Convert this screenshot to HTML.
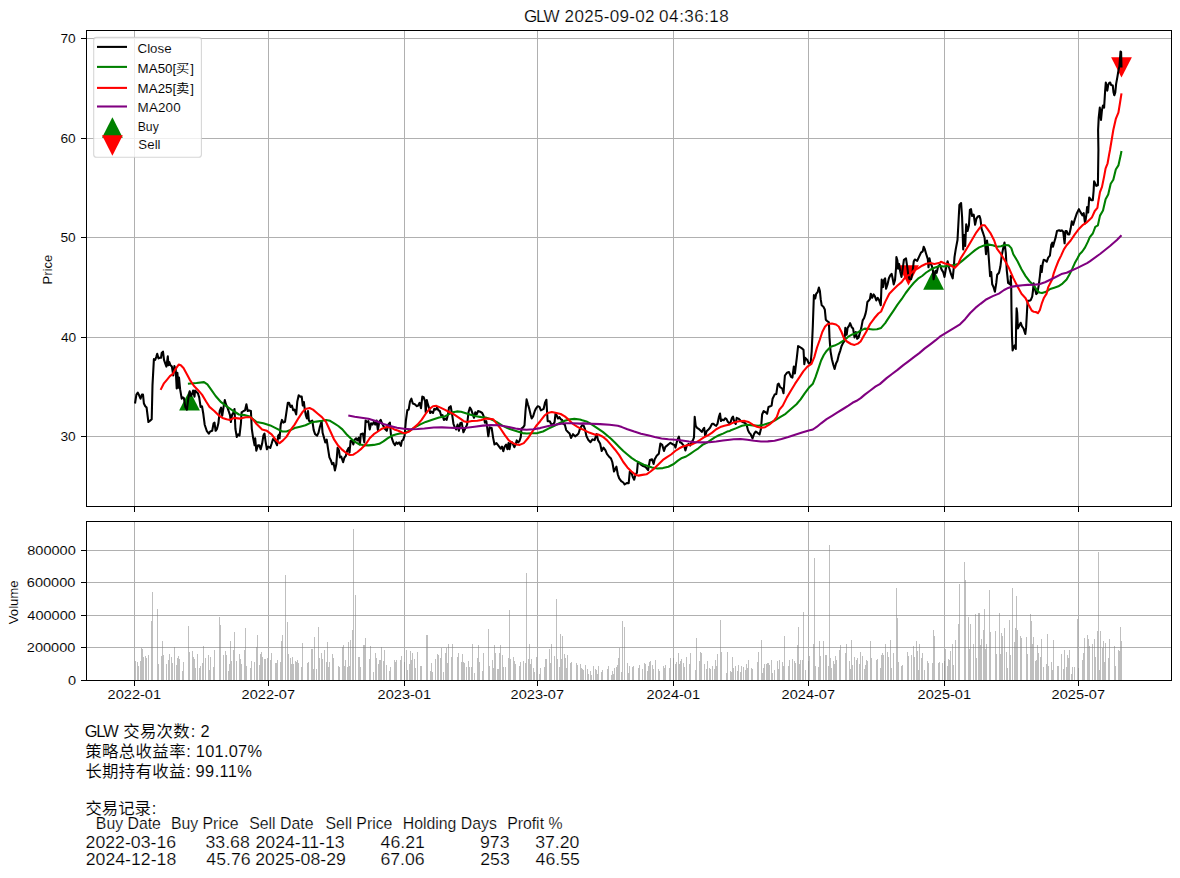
<!DOCTYPE html>
<html lang="zh"><head><meta charset="utf-8"><title>GLW</title><style>html,body{margin:0;padding:0;background:#fff}svg text{fill:#000;stroke:#fff;font-family:"Liberation Sans","Noto Sans CJK SC",sans-serif;white-space:pre}</style></head><body>
<svg width="1180" height="878" viewBox="0 0 1180 878" style="display:block">
<rect width="1180" height="878" fill="#fff"/>
<g stroke="#b0b0b0" stroke-width="1" shape-rendering="crispEdges">
<line x1="134.5" y1="30.5" x2="134.5" y2="506.5"/>
<line x1="268.5" y1="30.5" x2="268.5" y2="506.5"/>
<line x1="404.5" y1="30.5" x2="404.5" y2="506.5"/>
<line x1="537.5" y1="30.5" x2="537.5" y2="506.5"/>
<line x1="673.5" y1="30.5" x2="673.5" y2="506.5"/>
<line x1="808.5" y1="30.5" x2="808.5" y2="506.5"/>
<line x1="944.5" y1="30.5" x2="944.5" y2="506.5"/>
<line x1="1078.5" y1="30.5" x2="1078.5" y2="506.5"/>
<line x1="86.5" y1="38.5" x2="1171.5" y2="38.5"/>
<line x1="86.5" y1="138.5" x2="1171.5" y2="138.5"/>
<line x1="86.5" y1="237.5" x2="1171.5" y2="237.5"/>
<line x1="86.5" y1="337.5" x2="1171.5" y2="337.5"/>
<line x1="86.5" y1="436.5" x2="1171.5" y2="436.5"/>
</g>
<clipPath id="c1"><rect x="86.5" y="30.5" width="1085.0" height="476.0"/></clipPath>
<g clip-path="url(#c1)">
<polygon points="189.5,390.2 179.1,410.6 199.9,410.6" fill="#008000"/>
<polygon points="933.6,269.3 923.2,289.7 944.0,289.7" fill="#008000"/>
<polygon points="908.5,285.6 898.1,265.2 918.9,265.2" fill="#ff0000"/>
<polygon points="1121.5,77.6 1111.1,57.2 1131.9,57.2" fill="#ff0000"/>
<polyline points="135.0,403.5 136.4,394.6 137.8,392.6 139.1,395.3 140.5,398.7 141.9,394.6 143.0,394.6 143.9,403.5 145.3,406.3 146.6,407.6 147.7,416.5 148.4,422.0 150.1,420.6 151.7,419.2 152.5,385.1 153.9,359.1 155.2,359.8 156.2,357.1 157.2,353.7 158.5,358.4 159.9,357.8 161.0,357.8 161.7,353.0 163.0,351.6 164.0,359.8 165.4,363.9 166.4,366.6 167.8,356.4 168.5,365.3 169.2,361.9 170.5,365.3 171.9,366.6 173.3,375.5 174.4,366.0 175.7,369.4 176.7,388.5 177.4,372.8 178.5,387.8 179.0,377.6 180.1,389.2 181.7,398.7 182.8,397.4 183.9,398.1 185.3,406.9 186.9,409.7 188.3,398.7 189.7,391.2 191.0,396.0 192.4,393.3 193.1,390.5 194.5,396.7 195.1,390.5 196.5,391.9 197.9,393.3 199.2,397.4 200.6,406.9 202.0,406.3 203.3,413.8 204.7,424.7 206.7,430.8 208.8,433.6 210.2,431.5 212.2,430.8 213.6,423.3 214.5,422.7 215.6,430.8 217.0,428.8 218.4,423.3 219.7,411.0 221.1,407.6 222.2,415.8 223.8,405.6 224.8,400.1 225.9,404.2 227.2,406.9 228.6,411.0 230.0,415.1 230.9,422.0 232.0,415.1 233.4,412.4 234.5,409.0 235.4,428.8 236.8,437.0 238.2,434.3 239.5,435.6 240.9,423.3 241.6,412.4 243.6,411.0 245.0,410.4 246.4,404.2 247.7,411.0 249.1,410.4 250.9,411.0 251.8,428.8 253.2,438.4 254.6,445.2 255.2,438.4 256.3,450.7 258.0,445.2 259.3,445.2 260.7,449.3 262.1,443.8 263.4,435.6 264.5,433.6 265.5,441.1 266.9,449.3 268.2,446.6 270.3,447.9 271.6,443.8 273.0,439.0 275.1,441.1 277.1,445.2 278.2,435.6 279.2,434.3 279.6,438.3 280.7,424.6 282.0,419.9 283.4,422.6 285.0,421.9 286.4,412.3 287.8,402.8 289.1,402.8 290.5,406.9 291.9,405.5 293.2,410.3 294.6,409.6 296.2,414.4 297.3,401.4 298.7,395.3 300.1,396.6 301.7,396.6 302.8,405.5 303.9,402.1 304.8,409.6 305.8,415.1 306.9,418.5 308.0,411.0 308.9,420.5 310.3,421.9 312.3,420.5 313.7,430.1 315.1,434.2 317.1,435.6 318.5,432.8 319.9,426.7 321.6,421.2 322.6,432.8 324.0,437.6 325.3,442.4 326.7,439.7 328.1,449.2 329.4,457.4 330.8,460.2 332.2,464.3 333.5,462.9 334.9,470.4 336.3,464.3 337.6,447.9 339.0,450.6 339.9,457.4 341.3,456.7 343.1,462.2 344.5,457.4 345.8,456.1 347.2,450.6 348.6,447.9 349.5,452.7 350.6,441.0 352.0,440.4 353.3,444.5 354.7,439.7 356.1,438.3 357.4,440.4 358.8,437.6 359.9,444.5 360.8,434.2 362.9,433.5 364.3,442.4 365.6,420.5 367.0,421.9 368.4,421.2 369.7,429.4 371.1,423.3 372.5,424.6 373.8,421.9 375.2,424.6 376.6,420.5 377.9,430.1 379.3,421.9 380.7,419.9 382.0,423.3 383.4,426.0 384.8,428.7 386.8,430.8 388.2,424.6 389.9,422.6 390.9,434.2 392.3,439.7 393.6,443.1 395.0,445.1 396.4,442.4 397.7,443.8 399.1,442.4 400.9,445.8 401.8,441.0 403.2,439.7 404.6,435.6 405.9,420.5 407.3,410.3 408.7,409.6 410.0,401.4 411.4,398.7 412.8,403.5 414.8,404.2 416.9,406.2 418.2,405.5 419.6,402.8 421.0,408.3 422.3,396.6 423.7,397.3 425.1,401.4 425.7,412.3 426.8,400.1 427.8,404.2 429.2,408.3 430.2,413.0 431.6,411.7 433.0,413.0 434.3,408.9 435.7,409.6 437.1,407.6 438.4,410.3 439.8,411.0 441.2,415.8 442.5,415.1 443.9,419.9 445.3,418.5 446.6,419.9 448.0,414.4 449.0,407.6 450.7,406.2 452.1,414.4 453.5,424.0 454.8,427.4 456.2,429.4 457.6,424.6 458.9,430.8 460.3,423.3 461.7,422.6 463.4,432.2 465.1,428.7 467.1,424.6 468.5,412.3 469.9,407.6 471.2,409.6 472.6,413.7 474.0,417.8 475.3,412.3 476.7,414.4 478.1,411.0 480.1,411.7 482.2,413.0 483.5,415.8 484.9,422.6 486.3,421.2 487.2,427.4 488.3,436.3 489.7,427.4 491.7,428.1 493.1,437.6 494.5,444.5 496.5,443.1 498.6,445.8 500.6,448.6 502.0,446.5 503.3,451.3 504.7,446.5 506.1,444.5 507.4,449.2 508.5,443.1 509.5,449.2 510.8,442.4 512.2,442.4 514.3,447.2 515.6,444.5 516.7,440.4 518.1,442.4 519.5,441.0 520.8,436.9 521.4,428.7 523.1,427.4 524.5,425.3 525.5,411.0 526.6,399.4 527.9,404.2 529.3,408.9 530.7,415.1 531.7,418.5 533.1,416.4 534.8,411.0 536.1,408.3 537.8,406.2 539.5,406.9 540.9,410.3 542.3,409.6 543.6,408.9 545.0,402.8 546.4,399.8 547.0,411.0 547.7,421.2 549.8,421.2 551.1,424.0 553.2,424.6 554.6,421.9 555.5,413.7 556.6,415.1 558.0,418.5 559.3,417.1 560.7,419.2 562.1,419.9 563.4,424.0 564.8,424.6 566.2,430.1 568.2,432.2 569.6,433.5 571.0,437.9 573.0,434.2 575.1,436.3 577.1,434.9 578.5,433.5 579.8,429.4 580.9,427.1 582.3,425.1 583.7,425.8 585.0,429.2 586.4,436.0 588.4,440.1 590.5,442.2 592.5,439.4 594.6,440.1 596.6,434.0 598.0,440.1 600.1,443.5 601.7,451.0 603.5,447.6 605.5,450.4 606.9,453.8 608.9,456.5 611.0,458.6 612.3,462.0 614.0,471.5 615.4,468.8 616.4,466.7 617.8,474.3 619.2,478.4 621.2,481.1 623.3,482.5 624.6,484.5 626.7,483.1 628.7,483.1 629.8,471.5 631.5,472.9 632.8,477.0 634.2,479.7 635.6,474.3 636.9,472.9 637.9,462.0 639.7,463.3 641.0,464.7 643.1,466.1 645.1,466.7 646.5,468.1 648.1,470.2 649.9,459.9 652.0,459.2 653.6,464.0 654.7,459.2 656.7,455.8 658.8,453.8 660.4,443.5 662.2,444.9 664.0,451.0 665.4,446.9 667.0,445.6 668.6,444.2 670.4,442.8 672.5,444.2 674.5,444.9 675.5,447.6 676.6,442.8 677.9,438.7 678.9,436.7 680.0,442.2 681.3,442.8 683.1,444.9 684.5,446.9 685.4,450.4 686.8,445.6 688.6,443.9 690.2,445.6 691.6,442.2 693.0,440.1 694.0,437.4 694.7,416.9 695.7,425.8 697.0,427.8 699.1,429.2 700.5,430.5 701.8,431.9 703.2,429.2 704.2,427.8 705.2,436.0 706.6,431.2 708.7,429.2 710.0,427.8 712.1,423.7 713.4,423.7 714.8,425.1 716.2,425.8 717.5,423.7 718.9,416.9 720.0,413.5 721.0,421.0 722.3,419.6 723.7,420.3 725.1,418.3 726.4,418.9 727.8,421.7 729.8,423.7 730.2,423.3 732.0,417.9 733.0,416.5 734.3,422.0 735.7,424.0 736.7,417.9 738.4,418.6 740.5,420.6 742.5,422.0 744.6,422.7 746.6,424.7 748.0,430.2 749.4,432.9 750.7,434.3 752.5,438.4 754.2,433.6 755.8,431.5 757.6,432.9 759.6,434.3 761.0,428.8 762.1,414.5 763.7,411.0 765.8,412.4 767.1,413.8 768.5,406.9 770.3,406.3 771.6,405.6 772.6,398.7 774.6,394.6 776.3,394.0 777.7,384.4 778.7,383.7 780.1,387.1 782.2,388.5 783.5,393.3 784.9,375.5 786.9,372.8 789.0,372.1 791.0,376.9 792.4,377.6 793.8,366.6 794.9,373.5 795.8,366.0 796.8,357.8 798.1,346.1 799.8,347.0 801.9,348.4 803.5,349.7 804.3,364.1 805.3,357.9 807.3,360.0 808.7,363.4 810.7,362.7 811.7,351.1 812.8,326.5 813.9,295.1 815.2,298.5 816.2,293.7 817.6,292.3 818.9,287.6 819.9,291.0 820.7,299.2 821.7,305.3 823.4,306.7 824.8,309.4 825.8,319.7 827.1,321.0 828.9,322.4 829.5,337.4 830.5,351.1 831.9,359.3 833.3,364.8 834.6,368.9 836.0,363.4 837.4,360.7 838.7,355.2 840.1,351.1 841.5,346.3 843.1,342.9 844.5,340.8 845.3,327.9 846.7,334.7 847.6,327.9 849.0,325.8 850.1,323.1 851.7,327.2 853.1,328.6 854.5,337.4 855.8,332.0 857.2,338.8 858.6,337.4 859.9,332.7 861.3,327.9 862.7,320.4 864.0,318.3 865.4,314.2 866.3,310.1 867.4,301.9 868.8,300.5 869.9,299.2 870.8,293.7 872.2,297.8 873.6,294.4 874.9,296.4 876.3,300.5 877.7,297.8 879.0,299.9 880.8,305.3 881.7,279.6 883.1,287.1 883.8,280.3 885.1,278.3 886.1,288.8 887.5,284.4 888.9,278.3 890.2,275.5 891.6,273.8 892.6,278.3 893.7,284.4 895.0,280.3 896.1,267.3 896.4,257.1 897.4,260.5 898.1,268.7 899.1,263.9 900.2,271.4 901.5,276.9 902.9,267.3 903.9,259.8 906.0,258.4 907.3,267.3 908.3,274.8 909.4,278.9 911.1,279.3 912.4,272.8 913.8,261.2 914.8,259.5 917.2,260.8 918.9,257.1 921.0,252.6 922.7,251.3 923.7,246.8 924.7,248.9 926.1,253.7 927.8,259.1 928.5,267.3 929.5,258.4 930.5,263.2 931.9,266.0 932.9,270.7 933.6,279.3 934.6,274.2 935.7,270.7 936.7,272.8 938.1,266.6 939.8,264.6 941.5,269.4 943.2,272.1 944.5,276.9 945.9,268.7 947.6,261.2 949.0,267.3 951.0,274.2 952.7,278.3 953.8,267.3 954.5,257.1 955.8,248.9 957.5,240.0 959.4,205.0 961.1,203.0 962.1,217.3 963.2,249.4 964.2,235.1 965.2,246.0 966.2,224.2 967.6,231.0 968.9,225.5 969.9,209.8 971.0,209.1 972.1,216.0 973.7,214.6 975.1,224.8 976.4,218.7 977.8,216.6 979.5,216.0 980.5,219.4 981.6,228.9 983.3,233.7 984.6,237.8 986.0,254.2 987.0,240.5 988.1,248.7 989.4,266.5 990.1,276.1 991.2,272.0 992.2,284.3 993.5,287.0 994.9,291.8 996.3,282.9 997.2,274.7 999.0,272.7 1000.4,266.5 1001.7,255.6 1003.1,248.7 1004.5,242.6 1005.8,252.8 1006.8,270.6 1008.1,282.9 1009.9,284.3 1011.3,276.1 1010.7,276.1 1011.2,285.4 1011.5,311.0 1012.0,336.6 1012.6,350.4 1013.8,346.8 1014.8,345.3 1015.8,348.9 1016.1,327.4 1016.6,308.4 1017.2,313.0 1017.9,328.4 1019.2,325.8 1020.7,322.8 1022.0,326.4 1023.5,328.4 1025.3,334.0 1026.1,327.4 1026.8,315.1 1027.6,300.7 1029.2,300.7 1030.7,300.2 1032.2,296.6 1033.0,290.5 1033.6,283.3 1034.6,287.4 1035.3,290.5 1036.3,294.1 1037.4,293.1 1038.7,285.4 1039.9,276.1 1040.9,265.8 1041.7,272.0 1042.7,263.8 1043.7,259.7 1045.4,260.4 1046.8,261.7 1048.2,257.6 1049.9,255.6 1051.3,244.6 1052.3,242.6 1053.0,246.7 1054.3,241.9 1055.7,237.1 1057.0,231.0 1059.1,230.3 1060.5,231.0 1061.8,230.3 1063.2,231.7 1064.6,243.3 1065.5,231.0 1066.6,231.0 1068.0,234.4 1069.3,234.4 1070.7,228.3 1071.8,221.4 1073.2,224.8 1074.8,219.4 1076.9,213.2 1078.9,209.1 1080.3,211.9 1082.3,215.3 1083.7,213.2 1085.1,223.5 1086.4,214.6 1087.1,207.1 1088.2,212.5 1089.2,197.5 1089.8,198.2 1090.7,199.4 1091.2,200.2 1092.8,200.2 1093.6,191.0 1094.1,181.2 1095.3,183.8 1096.4,185.9 1097.9,185.3 1098.4,150.0 1098.1,130.0 1098.7,117.9 1099.8,107.6 1101.0,119.9 1102.0,109.7 1103.0,105.6 1104.1,107.6 1105.1,91.2 1105.8,82.5 1106.6,85.1 1107.3,90.7 1108.2,85.1 1109.2,83.0 1110.2,82.5 1111.2,85.1 1112.8,85.6 1113.5,92.3 1114.3,95.3 1115.3,92.3 1116.1,84.1 1117.4,76.9 1118.6,69.7 1119.4,66.6 1120.5,51.5 1121.1,52.1 1121.5,67.5" fill="none" stroke="#000" stroke-width="2.08" stroke-linejoin="round" stroke-linecap="butt"/>
<polyline points="187.9,383.7 196.5,383.0 204.0,382.1 207.4,384.4 210.8,389.2 215.6,396.0 221.1,402.2 226.6,406.3 233.4,411.0 238.9,414.5 244.3,415.1 249.8,416.5 256.6,422.0 263.4,423.3 270.3,425.4 275.7,428.1 282.3,431.5 286.4,431.5 290.5,430.1 294.6,428.1 300.1,426.7 305.5,425.3 311.0,422.6 316.4,421.6 321.9,420.8 326.0,419.9 330.1,420.8 334.2,423.3 338.3,426.0 342.4,429.4 346.5,434.2 350.6,438.3 354.7,441.7 358.8,444.2 362.9,445.1 368.4,445.4 373.8,444.9 379.3,443.8 383.4,441.4 387.5,438.3 391.6,435.8 395.7,434.5 399.8,433.5 404.6,433.1 409.3,430.8 414.8,427.4 420.3,424.4 425.7,421.9 433.7,419.2 439.1,417.4 444.6,416.4 448.7,414.4 452.8,412.3 456.9,411.4 461.0,411.7 465.1,413.0 470.5,414.8 476.0,416.2 481.5,417.1 485.6,417.5 491.0,419.2 496.5,421.9 502.0,425.3 507.4,428.1 512.9,430.1 518.4,431.7 522.5,433.1 526.6,433.5 532.0,433.3 537.5,433.1 543.0,431.5 548.4,428.7 553.9,426.0 559.3,423.3 564.8,420.8 570.3,419.2 574.4,418.9 579.8,419.5 582.3,420.3 586.4,421.4 590.5,423.7 594.6,426.4 598.7,429.2 602.8,431.9 606.9,435.3 611.0,438.7 615.1,442.8 619.2,446.9 623.3,451.0 627.4,454.5 631.5,457.9 635.6,460.6 639.7,462.7 643.8,464.7 647.9,466.1 652.0,467.4 657.4,468.5 662.9,468.1 668.4,466.7 673.8,464.0 677.9,460.6 682.0,457.9 686.1,456.5 690.2,453.8 694.3,451.0 698.4,448.3 702.5,444.9 706.6,442.8 710.7,440.1 714.8,437.4 718.9,435.3 723.0,433.6 727.1,431.6 729.8,431.0 730.9,430.2 736.4,428.1 741.9,425.8 747.3,424.7 752.8,425.4 758.3,425.8 763.7,424.7 769.2,423.1 774.6,420.6 780.1,417.2 785.6,413.8 791.0,409.0 796.5,404.2 800.6,399.4 804.7,393.3 808.8,387.8 812.9,383.7 815.6,376.9 818.4,368.7 821.1,360.5 823.8,355.0 826.6,350.9 830.7,346.8 834.6,345.6 838.7,343.6 844.2,340.2 848.3,336.7 852.4,334.4 856.5,333.1 860.6,330.6 864.7,328.6 868.8,329.0 872.9,329.5 877.0,329.2 881.1,327.9 885.2,323.1 889.3,316.9 893.4,310.8 897.5,304.6 901.6,299.2 905.7,293.0 909.8,287.6 913.9,282.8 918.0,278.7 922.1,276.0 926.2,272.5 930.3,269.8 934.4,267.8 939.8,266.1 943.7,266.5 949.1,265.8 954.6,265.1 958.7,263.8 962.8,260.4 966.9,256.9 971.0,253.5 975.1,250.1 979.2,247.4 984.6,245.3 988.7,244.6 992.8,245.3 996.9,246.7 1001.0,246.3 1004.5,245.1 1008.6,245.3 1011.3,248.1 1013.3,254.2 1017.4,261.0 1021.5,269.2 1025.6,276.1 1029.7,281.5 1033.8,285.6 1036.6,289.7 1039.3,292.5 1042.0,293.1 1046.1,291.8 1050.2,289.0 1054.3,287.7 1058.4,286.3 1062.5,283.6 1066.6,279.5 1069.3,274.7 1072.1,269.2 1074.8,263.1 1077.5,258.3 1079.6,254.2 1082.3,251.5 1085.1,247.4 1087.8,241.9 1089.8,237.1 1092.8,233.5 1095.3,226.8 1097.9,225.3 1100.0,215.6 1103.0,210.5 1105.6,199.2 1108.2,194.6 1110.7,183.8 1113.3,179.7 1115.8,169.5 1118.4,165.4 1120.5,156.1 1121.5,151.0" fill="none" stroke="#008000" stroke-width="2.08" stroke-linejoin="round" stroke-linecap="butt"/>
<polyline points="160.6,389.9 163.7,383.7 167.1,379.6 169.9,376.2 172.6,374.2 175.3,369.4 178.7,364.6 180.8,365.3 183.5,368.0 186.9,374.2 189.7,379.6 193.8,385.8 197.9,389.9 202.0,394.6 206.1,401.5 209.5,406.9 214.3,411.0 218.4,415.1 222.5,417.9 226.6,419.2 230.0,419.9 234.1,417.9 240.2,418.6 245.7,417.2 250.5,417.2 253.9,420.6 256.6,424.0 262.1,429.5 266.9,430.8 271.6,434.3 275.7,439.7 279.2,443.1 279.6,443.1 283.0,440.4 286.4,436.9 290.5,430.1 294.6,424.6 298.7,417.8 302.8,411.7 305.5,408.9 309.6,408.0 313.0,409.6 317.8,413.7 321.9,417.1 326.0,421.9 330.1,430.8 334.2,439.7 338.3,445.8 342.4,449.9 346.5,453.3 349.9,455.0 353.3,454.7 357.4,452.0 361.5,448.6 365.6,444.5 369.7,438.3 373.8,434.2 377.9,431.5 382.0,428.7 386.1,427.1 390.2,427.1 394.3,429.4 398.4,430.8 402.5,432.8 405.2,433.1 409.3,431.5 413.4,428.1 417.5,424.6 421.6,419.9 425.7,413.7 429.2,409.3 429.6,408.9 433.0,406.2 436.4,405.9 440.5,407.6 444.6,409.6 448.7,411.7 452.8,413.7 456.9,416.4 461.0,419.2 463.7,421.2 467.1,421.9 471.9,421.0 477.4,420.8 481.5,419.9 485.6,418.5 489.7,418.9 493.1,419.2 496.5,423.3 500.6,428.7 504.7,434.9 508.8,440.4 512.9,443.1 516.3,444.5 519.7,444.9 523.8,443.1 527.9,438.3 532.0,432.2 536.1,426.0 540.2,421.2 544.3,415.8 547.7,413.0 551.8,412.1 556.6,413.0 560.7,414.0 564.8,416.4 568.9,419.9 573.0,424.0 577.1,426.7 579.8,428.1 583.7,429.9 589.1,432.6 594.6,434.6 598.7,434.6 602.8,436.7 606.9,440.1 611.0,444.9 615.1,449.7 619.2,455.1 623.3,462.0 627.4,467.4 631.5,471.5 635.6,474.9 638.3,475.6 642.4,474.9 646.5,474.3 650.6,471.5 654.7,468.1 658.8,464.0 662.9,459.9 667.0,457.2 671.1,454.5 675.2,451.0 679.3,448.3 683.4,446.3 687.5,445.3 691.6,444.5 695.7,442.6 699.8,440.1 703.9,437.4 708.0,435.3 712.1,432.6 716.2,429.2 720.3,427.1 724.4,425.8 729.8,424.4 733.7,422.4 739.1,421.3 744.6,420.9 748.7,422.0 752.8,424.7 756.9,426.7 761.0,427.8 765.1,427.2 769.2,424.7 773.3,421.3 776.7,417.2 779.4,409.7 782.8,405.6 786.9,397.4 791.0,390.5 795.1,383.7 799.2,377.6 803.3,371.4 807.4,366.6 811.5,363.9 814.3,357.1 817.0,347.5 819.7,340.0 822.3,332.0 825.1,326.5 827.8,324.0 831.9,323.5 836.0,324.5 838.7,326.5 841.5,332.0 844.2,338.8 846.9,341.5 851.0,344.0 854.5,344.9 857.9,343.6 860.6,341.5 863.3,336.7 866.1,332.0 870.2,323.8 874.3,318.3 878.4,313.5 881.1,311.5 885.2,301.9 889.3,293.7 893.4,289.6 897.5,285.5 901.6,282.1 905.7,276.6 909.8,274.6 913.9,270.5 918.0,268.4 922.1,265.7 926.2,263.7 930.3,263.0 934.4,263.9 939.8,262.7 940.9,261.7 945.0,263.5 949.1,264.5 952.5,266.5 954.6,267.9 958.0,264.5 960.7,258.3 964.2,252.8 968.3,246.0 972.3,239.2 976.4,232.3 979.9,227.6 981.9,225.2 984.6,225.2 987.4,228.9 990.8,233.7 994.2,240.5 996.9,248.7 1001.0,254.2 1005.1,261.0 1009.2,268.6 1013.3,278.1 1017.4,286.3 1021.5,293.8 1025.6,298.2 1028.6,304.8 1031.7,310.5 1033.8,311.8 1035.8,312.0 1037.9,313.2 1039.9,310.0 1042.0,302.8 1044.0,297.7 1046.6,293.6 1048.1,287.4 1050.2,283.3 1052.2,279.2 1053.8,273.1 1055.7,267.9 1058.4,261.0 1061.1,255.6 1063.9,249.4 1066.6,245.3 1070.7,240.5 1074.8,234.4 1078.9,228.9 1083.0,224.8 1087.1,222.1 1089.8,219.4 1091.8,217.6 1094.8,211.0 1097.4,207.9 1098.4,201.2 1100.0,192.0 1102.0,186.9 1104.1,176.6 1105.6,168.4 1107.6,163.3 1109.2,154.1 1110.0,150.0 1113.3,130.0 1115.8,118.9 1118.4,112.7 1119.9,103.5 1121.5,93.3" fill="none" stroke="#ff0000" stroke-width="2.08" stroke-linejoin="round" stroke-linecap="butt"/>
<polyline points="348.3,415.4 354.7,416.7 361.5,417.8 368.4,418.8 376.6,421.2 383.4,424.0 390.2,426.0 397.0,427.7 403.9,428.7 410.7,429.2 417.5,429.0 424.4,428.5 433.7,427.5 441.9,427.4 450.1,427.7 458.3,428.1 466.4,427.8 474.6,426.7 482.8,425.6 491.0,425.1 499.2,425.3 507.4,426.7 515.6,428.5 521.1,429.4 526.6,429.7 533.4,429.2 540.2,428.1 548.4,426.0 556.6,424.4 564.8,423.3 573.0,423.3 579.8,423.6 583.7,423.4 591.9,423.7 600.1,424.1 609.6,424.8 617.8,425.8 621.9,427.1 627.4,429.2 634.2,431.6 641.0,433.7 647.9,435.3 654.7,437.1 661.5,438.5 668.4,439.3 675.2,439.8 682.0,440.5 688.9,441.5 695.7,442.2 702.5,442.4 709.3,442.2 716.2,441.5 723.0,440.5 729.8,439.7 733.7,439.3 740.5,439.0 747.3,439.7 754.2,440.8 761.0,441.5 767.8,441.4 774.6,440.7 781.5,439.0 788.3,437.0 795.1,434.7 802.0,432.6 808.8,430.6 812.9,429.5 817.0,426.7 821.1,423.3 826.6,419.2 832.0,415.8 837.5,412.4 843.0,409.0 848.4,405.6 852.5,402.8 856.6,400.8 860.7,398.1 864.8,394.6 870.3,390.5 875.7,386.4 879.8,384.1 886.6,378.1 892.0,374.0 897.5,369.9 903.0,365.4 908.4,361.3 913.9,357.2 919.3,353.1 924.8,348.4 930.3,344.3 935.7,340.2 939.8,336.7 960.0,324.3 965.1,319.2 970.2,313.0 975.4,307.9 980.5,303.8 986.6,299.2 992.8,296.1 998.9,293.6 1004.1,290.0 1008.2,287.9 1012.3,286.6 1017.4,285.9 1022.5,285.2 1027.6,284.9 1033.8,284.7 1039.9,284.1 1045.0,282.3 1050.2,279.7 1055.3,277.2 1061.4,274.1 1066.6,272.7 1072.1,270.3 1077.5,267.9 1083.0,265.1 1087.1,263.1 1089.8,261.4 1100.0,254.0 1110.0,246.0 1116.9,240.0 1121.5,235.2" fill="none" stroke="#800080" stroke-width="2.08" stroke-linejoin="round" stroke-linecap="butt"/>
</g>
<g stroke="#b0b0b0" stroke-width="1" shape-rendering="crispEdges">
<line x1="134.5" y1="521.5" x2="134.5" y2="680.5"/>
<line x1="268.5" y1="521.5" x2="268.5" y2="680.5"/>
<line x1="404.5" y1="521.5" x2="404.5" y2="680.5"/>
<line x1="537.5" y1="521.5" x2="537.5" y2="680.5"/>
<line x1="673.5" y1="521.5" x2="673.5" y2="680.5"/>
<line x1="808.5" y1="521.5" x2="808.5" y2="680.5"/>
<line x1="944.5" y1="521.5" x2="944.5" y2="680.5"/>
<line x1="1078.5" y1="521.5" x2="1078.5" y2="680.5"/>
<line x1="86.5" y1="550.5" x2="1171.5" y2="550.5"/>
<line x1="86.5" y1="582.5" x2="1171.5" y2="582.5"/>
<line x1="86.5" y1="615.5" x2="1171.5" y2="615.5"/>
<line x1="86.5" y1="647.5" x2="1171.5" y2="647.5"/>
</g>
<g fill="#808080" fill-opacity="0.5" shape-rendering="crispEdges">
<rect x="135" y="661" width="1" height="19"/>
<rect x="137" y="662" width="1" height="18"/>
<rect x="138" y="666" width="1" height="14"/>
<rect x="140" y="661" width="1" height="19"/>
<rect x="141" y="648" width="1" height="32"/>
<rect x="142" y="649" width="1" height="31"/>
<rect x="143" y="657" width="1" height="23"/>
<rect x="145" y="656" width="1" height="24"/>
<rect x="146" y="658" width="1" height="22"/>
<rect x="148" y="655" width="1" height="25"/>
<rect x="151" y="621" width="1" height="59"/>
<rect x="152" y="592" width="1" height="88"/>
<rect x="157" y="609" width="1" height="71"/>
<rect x="158" y="664" width="1" height="16"/>
<rect x="161" y="656" width="1" height="24"/>
<rect x="162" y="641" width="1" height="39"/>
<rect x="163" y="655" width="1" height="25"/>
<rect x="166" y="664" width="1" height="16"/>
<rect x="168" y="660" width="1" height="20"/>
<rect x="169" y="654" width="1" height="26"/>
<rect x="171" y="657" width="1" height="23"/>
<rect x="172" y="663" width="1" height="17"/>
<rect x="174" y="647" width="1" height="33"/>
<rect x="176" y="665" width="1" height="15"/>
<rect x="177" y="658" width="1" height="22"/>
<rect x="178" y="656" width="1" height="24"/>
<rect x="179" y="659" width="1" height="21"/>
<rect x="182" y="671" width="1" height="9"/>
<rect x="183" y="662" width="1" height="18"/>
<rect x="188" y="626" width="1" height="54"/>
<rect x="189" y="652" width="1" height="28"/>
<rect x="192" y="651" width="1" height="29"/>
<rect x="193" y="657" width="1" height="23"/>
<rect x="194" y="659" width="1" height="21"/>
<rect x="195" y="668" width="1" height="12"/>
<rect x="197" y="654" width="1" height="26"/>
<rect x="199" y="668" width="1" height="12"/>
<rect x="200" y="666" width="1" height="14"/>
<rect x="202" y="663" width="1" height="17"/>
<rect x="203" y="646" width="1" height="34"/>
<rect x="205" y="658" width="1" height="22"/>
<rect x="208" y="655" width="1" height="25"/>
<rect x="209" y="670" width="1" height="10"/>
<rect x="210" y="657" width="1" height="23"/>
<rect x="213" y="667" width="1" height="13"/>
<rect x="214" y="650" width="1" height="30"/>
<rect x="219" y="617" width="1" height="63"/>
<rect x="220" y="625" width="1" height="55"/>
<rect x="223" y="655" width="1" height="25"/>
<rect x="225" y="651" width="1" height="29"/>
<rect x="226" y="655" width="1" height="25"/>
<rect x="228" y="671" width="1" height="9"/>
<rect x="229" y="664" width="1" height="16"/>
<rect x="230" y="641" width="1" height="39"/>
<rect x="231" y="661" width="1" height="19"/>
<rect x="233" y="650" width="1" height="30"/>
<rect x="234" y="632" width="1" height="48"/>
<rect x="236" y="661" width="1" height="19"/>
<rect x="239" y="654" width="1" height="26"/>
<rect x="240" y="659" width="1" height="21"/>
<rect x="241" y="664" width="1" height="16"/>
<rect x="244" y="650" width="1" height="30"/>
<rect x="245" y="628" width="1" height="52"/>
<rect x="246" y="666" width="1" height="14"/>
<rect x="250" y="668" width="1" height="12"/>
<rect x="251" y="661" width="1" height="19"/>
<rect x="254" y="662" width="1" height="18"/>
<rect x="256" y="647" width="1" height="33"/>
<rect x="257" y="635" width="1" height="45"/>
<rect x="259" y="665" width="1" height="15"/>
<rect x="260" y="654" width="1" height="26"/>
<rect x="261" y="652" width="1" height="28"/>
<rect x="262" y="657" width="1" height="23"/>
<rect x="264" y="659" width="1" height="21"/>
<rect x="265" y="659" width="1" height="21"/>
<rect x="267" y="658" width="1" height="22"/>
<rect x="270" y="660" width="1" height="20"/>
<rect x="271" y="653" width="1" height="27"/>
<rect x="275" y="663" width="1" height="17"/>
<rect x="276" y="663" width="1" height="17"/>
<rect x="277" y="660" width="1" height="20"/>
<rect x="280" y="662" width="1" height="18"/>
<rect x="281" y="641" width="1" height="39"/>
<rect x="282" y="635" width="1" height="45"/>
<rect x="285" y="575" width="1" height="105"/>
<rect x="287" y="622" width="1" height="58"/>
<rect x="288" y="654" width="1" height="26"/>
<rect x="290" y="658" width="1" height="22"/>
<rect x="291" y="664" width="1" height="16"/>
<rect x="292" y="657" width="1" height="23"/>
<rect x="293" y="664" width="1" height="16"/>
<rect x="295" y="661" width="1" height="19"/>
<rect x="296" y="662" width="1" height="18"/>
<rect x="297" y="660" width="1" height="20"/>
<rect x="298" y="663" width="1" height="17"/>
<rect x="301" y="667" width="1" height="13"/>
<rect x="302" y="643" width="1" height="37"/>
<rect x="307" y="663" width="1" height="17"/>
<rect x="308" y="662" width="1" height="18"/>
<rect x="311" y="649" width="1" height="31"/>
<rect x="312" y="649" width="1" height="31"/>
<rect x="313" y="669" width="1" height="11"/>
<rect x="314" y="637" width="1" height="43"/>
<rect x="316" y="669" width="1" height="11"/>
<rect x="318" y="627" width="1" height="53"/>
<rect x="319" y="658" width="1" height="22"/>
<rect x="321" y="653" width="1" height="27"/>
<rect x="322" y="659" width="1" height="21"/>
<rect x="324" y="650" width="1" height="30"/>
<rect x="326" y="662" width="1" height="18"/>
<rect x="327" y="642" width="1" height="38"/>
<rect x="328" y="667" width="1" height="13"/>
<rect x="329" y="662" width="1" height="18"/>
<rect x="332" y="654" width="1" height="26"/>
<rect x="333" y="658" width="1" height="22"/>
<rect x="338" y="666" width="1" height="14"/>
<rect x="339" y="667" width="1" height="13"/>
<rect x="342" y="647" width="1" height="33"/>
<rect x="343" y="645" width="1" height="35"/>
<rect x="344" y="666" width="1" height="14"/>
<rect x="345" y="660" width="1" height="20"/>
<rect x="347" y="667" width="1" height="13"/>
<rect x="348" y="642" width="1" height="38"/>
<rect x="349" y="666" width="1" height="14"/>
<rect x="350" y="640" width="1" height="40"/>
<rect x="352" y="630" width="1" height="50"/>
<rect x="353" y="529" width="1" height="151"/>
<rect x="355" y="595" width="1" height="85"/>
<rect x="358" y="657" width="1" height="23"/>
<rect x="359" y="657" width="1" height="23"/>
<rect x="360" y="667" width="1" height="13"/>
<rect x="363" y="645" width="1" height="35"/>
<rect x="364" y="645" width="1" height="35"/>
<rect x="365" y="638" width="1" height="42"/>
<rect x="369" y="659" width="1" height="21"/>
<rect x="370" y="646" width="1" height="34"/>
<rect x="373" y="672" width="1" height="8"/>
<rect x="375" y="653" width="1" height="27"/>
<rect x="376" y="658" width="1" height="22"/>
<rect x="378" y="664" width="1" height="16"/>
<rect x="379" y="660" width="1" height="20"/>
<rect x="380" y="660" width="1" height="20"/>
<rect x="381" y="647" width="1" height="33"/>
<rect x="383" y="661" width="1" height="19"/>
<rect x="384" y="650" width="1" height="30"/>
<rect x="386" y="665" width="1" height="15"/>
<rect x="389" y="671" width="1" height="9"/>
<rect x="390" y="667" width="1" height="13"/>
<rect x="394" y="660" width="1" height="20"/>
<rect x="395" y="662" width="1" height="18"/>
<rect x="396" y="660" width="1" height="20"/>
<rect x="400" y="660" width="1" height="20"/>
<rect x="401" y="656" width="1" height="24"/>
<rect x="404" y="662" width="1" height="18"/>
<rect x="406" y="650" width="1" height="30"/>
<rect x="407" y="670" width="1" height="10"/>
<rect x="409" y="664" width="1" height="16"/>
<rect x="410" y="651" width="1" height="29"/>
<rect x="411" y="660" width="1" height="20"/>
<rect x="412" y="653" width="1" height="27"/>
<rect x="414" y="659" width="1" height="21"/>
<rect x="415" y="668" width="1" height="12"/>
<rect x="417" y="652" width="1" height="28"/>
<rect x="420" y="666" width="1" height="14"/>
<rect x="421" y="666" width="1" height="14"/>
<rect x="426" y="635" width="1" height="45"/>
<rect x="427" y="635" width="1" height="45"/>
<rect x="430" y="671" width="1" height="9"/>
<rect x="431" y="663" width="1" height="17"/>
<rect x="432" y="672" width="1" height="8"/>
<rect x="435" y="659" width="1" height="21"/>
<rect x="437" y="654" width="1" height="26"/>
<rect x="438" y="655" width="1" height="25"/>
<rect x="440" y="658" width="1" height="22"/>
<rect x="441" y="648" width="1" height="32"/>
<rect x="443" y="672" width="1" height="8"/>
<rect x="445" y="653" width="1" height="27"/>
<rect x="446" y="648" width="1" height="32"/>
<rect x="447" y="663" width="1" height="17"/>
<rect x="448" y="644" width="1" height="36"/>
<rect x="451" y="657" width="1" height="23"/>
<rect x="452" y="644" width="1" height="36"/>
<rect x="457" y="657" width="1" height="23"/>
<rect x="458" y="653" width="1" height="27"/>
<rect x="461" y="662" width="1" height="18"/>
<rect x="462" y="654" width="1" height="26"/>
<rect x="463" y="662" width="1" height="18"/>
<rect x="464" y="663" width="1" height="17"/>
<rect x="466" y="667" width="1" height="13"/>
<rect x="468" y="661" width="1" height="19"/>
<rect x="469" y="667" width="1" height="13"/>
<rect x="471" y="667" width="1" height="13"/>
<rect x="472" y="644" width="1" height="36"/>
<rect x="474" y="673" width="1" height="7"/>
<rect x="477" y="658" width="1" height="22"/>
<rect x="478" y="645" width="1" height="35"/>
<rect x="479" y="662" width="1" height="18"/>
<rect x="482" y="671" width="1" height="9"/>
<rect x="483" y="653" width="1" height="27"/>
<rect x="488" y="629" width="1" height="51"/>
<rect x="489" y="666" width="1" height="14"/>
<rect x="492" y="660" width="1" height="20"/>
<rect x="493" y="668" width="1" height="12"/>
<rect x="494" y="645" width="1" height="35"/>
<rect x="495" y="653" width="1" height="27"/>
<rect x="497" y="669" width="1" height="11"/>
<rect x="498" y="669" width="1" height="11"/>
<rect x="499" y="653" width="1" height="27"/>
<rect x="500" y="645" width="1" height="35"/>
<rect x="502" y="655" width="1" height="25"/>
<rect x="503" y="667" width="1" height="13"/>
<rect x="505" y="667" width="1" height="13"/>
<rect x="508" y="658" width="1" height="22"/>
<rect x="509" y="610" width="1" height="70"/>
<rect x="510" y="659" width="1" height="21"/>
<rect x="513" y="657" width="1" height="23"/>
<rect x="514" y="661" width="1" height="19"/>
<rect x="515" y="664" width="1" height="16"/>
<rect x="519" y="666" width="1" height="14"/>
<rect x="520" y="662" width="1" height="18"/>
<rect x="523" y="661" width="1" height="19"/>
<rect x="525" y="663" width="1" height="17"/>
<rect x="526" y="573" width="1" height="107"/>
<rect x="528" y="659" width="1" height="21"/>
<rect x="529" y="644" width="1" height="36"/>
<rect x="530" y="664" width="1" height="16"/>
<rect x="531" y="659" width="1" height="21"/>
<rect x="533" y="668" width="1" height="12"/>
<rect x="534" y="672" width="1" height="8"/>
<rect x="536" y="657" width="1" height="23"/>
<rect x="539" y="674" width="1" height="6"/>
<rect x="540" y="668" width="1" height="12"/>
<rect x="544" y="667" width="1" height="13"/>
<rect x="545" y="659" width="1" height="21"/>
<rect x="546" y="659" width="1" height="21"/>
<rect x="549" y="649" width="1" height="31"/>
<rect x="550" y="663" width="1" height="17"/>
<rect x="551" y="644" width="1" height="36"/>
<rect x="554" y="656" width="1" height="24"/>
<rect x="556" y="599" width="1" height="81"/>
<rect x="557" y="659" width="1" height="21"/>
<rect x="559" y="667" width="1" height="13"/>
<rect x="560" y="634" width="1" height="46"/>
<rect x="561" y="659" width="1" height="21"/>
<rect x="562" y="636" width="1" height="44"/>
<rect x="564" y="654" width="1" height="26"/>
<rect x="565" y="658" width="1" height="22"/>
<rect x="566" y="668" width="1" height="12"/>
<rect x="567" y="655" width="1" height="25"/>
<rect x="570" y="663" width="1" height="17"/>
<rect x="571" y="662" width="1" height="18"/>
<rect x="576" y="663" width="1" height="17"/>
<rect x="577" y="665" width="1" height="15"/>
<rect x="580" y="664" width="1" height="16"/>
<rect x="581" y="668" width="1" height="12"/>
<rect x="582" y="669" width="1" height="11"/>
<rect x="583" y="670" width="1" height="10"/>
<rect x="585" y="665" width="1" height="15"/>
<rect x="587" y="669" width="1" height="11"/>
<rect x="588" y="674" width="1" height="6"/>
<rect x="590" y="671" width="1" height="9"/>
<rect x="591" y="675" width="1" height="5"/>
<rect x="593" y="666" width="1" height="14"/>
<rect x="595" y="669" width="1" height="11"/>
<rect x="596" y="670" width="1" height="10"/>
<rect x="597" y="674" width="1" height="6"/>
<rect x="598" y="666" width="1" height="14"/>
<rect x="601" y="672" width="1" height="8"/>
<rect x="602" y="670" width="1" height="10"/>
<rect x="607" y="669" width="1" height="11"/>
<rect x="608" y="666" width="1" height="14"/>
<rect x="611" y="675" width="1" height="5"/>
<rect x="612" y="671" width="1" height="9"/>
<rect x="613" y="674" width="1" height="6"/>
<rect x="614" y="668" width="1" height="12"/>
<rect x="616" y="667" width="1" height="13"/>
<rect x="617" y="665" width="1" height="15"/>
<rect x="618" y="658" width="1" height="22"/>
<rect x="619" y="648" width="1" height="32"/>
<rect x="621" y="672" width="1" height="8"/>
<rect x="622" y="621" width="1" height="59"/>
<rect x="624" y="627" width="1" height="53"/>
<rect x="627" y="663" width="1" height="17"/>
<rect x="628" y="673" width="1" height="7"/>
<rect x="629" y="666" width="1" height="14"/>
<rect x="632" y="667" width="1" height="13"/>
<rect x="633" y="666" width="1" height="14"/>
<rect x="638" y="668" width="1" height="12"/>
<rect x="639" y="665" width="1" height="15"/>
<rect x="642" y="669" width="1" height="11"/>
<rect x="644" y="663" width="1" height="17"/>
<rect x="645" y="664" width="1" height="16"/>
<rect x="647" y="671" width="1" height="9"/>
<rect x="648" y="666" width="1" height="14"/>
<rect x="649" y="662" width="1" height="18"/>
<rect x="650" y="661" width="1" height="19"/>
<rect x="652" y="665" width="1" height="15"/>
<rect x="653" y="669" width="1" height="11"/>
<rect x="655" y="660" width="1" height="20"/>
<rect x="658" y="669" width="1" height="11"/>
<rect x="659" y="671" width="1" height="9"/>
<rect x="663" y="666" width="1" height="14"/>
<rect x="664" y="668" width="1" height="12"/>
<rect x="665" y="665" width="1" height="15"/>
<rect x="669" y="668" width="1" height="12"/>
<rect x="670" y="658" width="1" height="22"/>
<rect x="673" y="658" width="1" height="22"/>
<rect x="675" y="664" width="1" height="16"/>
<rect x="676" y="662" width="1" height="18"/>
<rect x="678" y="653" width="1" height="27"/>
<rect x="679" y="664" width="1" height="16"/>
<rect x="680" y="661" width="1" height="19"/>
<rect x="681" y="659" width="1" height="21"/>
<rect x="683" y="663" width="1" height="17"/>
<rect x="684" y="667" width="1" height="13"/>
<rect x="686" y="657" width="1" height="23"/>
<rect x="689" y="664" width="1" height="16"/>
<rect x="690" y="653" width="1" height="27"/>
<rect x="695" y="670" width="1" height="10"/>
<rect x="696" y="638" width="1" height="42"/>
<rect x="699" y="661" width="1" height="19"/>
<rect x="700" y="652" width="1" height="28"/>
<rect x="701" y="653" width="1" height="27"/>
<rect x="704" y="664" width="1" height="16"/>
<rect x="706" y="669" width="1" height="11"/>
<rect x="707" y="661" width="1" height="19"/>
<rect x="709" y="668" width="1" height="12"/>
<rect x="710" y="669" width="1" height="11"/>
<rect x="712" y="666" width="1" height="14"/>
<rect x="714" y="669" width="1" height="11"/>
<rect x="715" y="660" width="1" height="20"/>
<rect x="716" y="666" width="1" height="14"/>
<rect x="717" y="654" width="1" height="26"/>
<rect x="720" y="620" width="1" height="60"/>
<rect x="721" y="652" width="1" height="28"/>
<rect x="726" y="673" width="1" height="7"/>
<rect x="727" y="652" width="1" height="28"/>
<rect x="730" y="671" width="1" height="9"/>
<rect x="731" y="672" width="1" height="8"/>
<rect x="732" y="657" width="1" height="23"/>
<rect x="733" y="668" width="1" height="12"/>
<rect x="735" y="666" width="1" height="14"/>
<rect x="737" y="671" width="1" height="9"/>
<rect x="738" y="665" width="1" height="15"/>
<rect x="740" y="672" width="1" height="8"/>
<rect x="741" y="666" width="1" height="14"/>
<rect x="743" y="667" width="1" height="13"/>
<rect x="745" y="670" width="1" height="10"/>
<rect x="746" y="664" width="1" height="16"/>
<rect x="747" y="668" width="1" height="12"/>
<rect x="748" y="660" width="1" height="20"/>
<rect x="751" y="668" width="1" height="12"/>
<rect x="752" y="669" width="1" height="11"/>
<rect x="757" y="662" width="1" height="18"/>
<rect x="758" y="652" width="1" height="28"/>
<rect x="761" y="640" width="1" height="40"/>
<rect x="762" y="673" width="1" height="7"/>
<rect x="763" y="668" width="1" height="12"/>
<rect x="764" y="664" width="1" height="16"/>
<rect x="766" y="664" width="1" height="16"/>
<rect x="767" y="663" width="1" height="17"/>
<rect x="768" y="663" width="1" height="17"/>
<rect x="769" y="665" width="1" height="15"/>
<rect x="771" y="660" width="1" height="20"/>
<rect x="772" y="673" width="1" height="7"/>
<rect x="774" y="670" width="1" height="10"/>
<rect x="777" y="661" width="1" height="19"/>
<rect x="778" y="669" width="1" height="11"/>
<rect x="779" y="660" width="1" height="20"/>
<rect x="782" y="662" width="1" height="18"/>
<rect x="783" y="666" width="1" height="14"/>
<rect x="784" y="636" width="1" height="44"/>
<rect x="788" y="666" width="1" height="14"/>
<rect x="789" y="660" width="1" height="20"/>
<rect x="792" y="659" width="1" height="21"/>
<rect x="794" y="661" width="1" height="19"/>
<rect x="795" y="663" width="1" height="17"/>
<rect x="797" y="645" width="1" height="35"/>
<rect x="798" y="627" width="1" height="53"/>
<rect x="799" y="664" width="1" height="16"/>
<rect x="800" y="660" width="1" height="20"/>
<rect x="802" y="660" width="1" height="20"/>
<rect x="803" y="612" width="1" height="68"/>
<rect x="805" y="670" width="1" height="10"/>
<rect x="808" y="661" width="1" height="19"/>
<rect x="809" y="656" width="1" height="24"/>
<rect x="813" y="644" width="1" height="36"/>
<rect x="814" y="558" width="1" height="122"/>
<rect x="815" y="666" width="1" height="14"/>
<rect x="818" y="667" width="1" height="13"/>
<rect x="819" y="641" width="1" height="39"/>
<rect x="820" y="656" width="1" height="24"/>
<rect x="823" y="641" width="1" height="39"/>
<rect x="825" y="655" width="1" height="25"/>
<rect x="826" y="655" width="1" height="25"/>
<rect x="828" y="666" width="1" height="14"/>
<rect x="829" y="545" width="1" height="135"/>
<rect x="830" y="658" width="1" height="22"/>
<rect x="831" y="668" width="1" height="12"/>
<rect x="833" y="661" width="1" height="19"/>
<rect x="834" y="664" width="1" height="16"/>
<rect x="835" y="656" width="1" height="24"/>
<rect x="836" y="660" width="1" height="20"/>
<rect x="839" y="650" width="1" height="30"/>
<rect x="840" y="645" width="1" height="35"/>
<rect x="845" y="653" width="1" height="27"/>
<rect x="846" y="644" width="1" height="36"/>
<rect x="849" y="661" width="1" height="19"/>
<rect x="850" y="669" width="1" height="11"/>
<rect x="851" y="640" width="1" height="40"/>
<rect x="852" y="665" width="1" height="15"/>
<rect x="854" y="657" width="1" height="23"/>
<rect x="856" y="660" width="1" height="20"/>
<rect x="857" y="658" width="1" height="22"/>
<rect x="859" y="664" width="1" height="16"/>
<rect x="860" y="652" width="1" height="28"/>
<rect x="862" y="656" width="1" height="24"/>
<rect x="864" y="669" width="1" height="11"/>
<rect x="865" y="665" width="1" height="15"/>
<rect x="866" y="660" width="1" height="20"/>
<rect x="867" y="661" width="1" height="19"/>
<rect x="870" y="641" width="1" height="39"/>
<rect x="871" y="658" width="1" height="22"/>
<rect x="876" y="660" width="1" height="20"/>
<rect x="877" y="659" width="1" height="21"/>
<rect x="880" y="668" width="1" height="12"/>
<rect x="881" y="655" width="1" height="25"/>
<rect x="882" y="653" width="1" height="27"/>
<rect x="883" y="655" width="1" height="25"/>
<rect x="885" y="644" width="1" height="36"/>
<rect x="887" y="652" width="1" height="28"/>
<rect x="888" y="657" width="1" height="23"/>
<rect x="890" y="640" width="1" height="40"/>
<rect x="891" y="668" width="1" height="12"/>
<rect x="893" y="653" width="1" height="27"/>
<rect x="896" y="588" width="1" height="92"/>
<rect x="897" y="618" width="1" height="62"/>
<rect x="898" y="662" width="1" height="18"/>
<rect x="901" y="666" width="1" height="14"/>
<rect x="902" y="665" width="1" height="15"/>
<rect x="907" y="652" width="1" height="28"/>
<rect x="908" y="656" width="1" height="24"/>
<rect x="911" y="655" width="1" height="25"/>
<rect x="913" y="646" width="1" height="34"/>
<rect x="914" y="657" width="1" height="23"/>
<rect x="916" y="641" width="1" height="39"/>
<rect x="917" y="651" width="1" height="29"/>
<rect x="918" y="670" width="1" height="10"/>
<rect x="919" y="644" width="1" height="36"/>
<rect x="921" y="658" width="1" height="22"/>
<rect x="922" y="653" width="1" height="27"/>
<rect x="924" y="670" width="1" height="10"/>
<rect x="927" y="661" width="1" height="19"/>
<rect x="928" y="663" width="1" height="17"/>
<rect x="932" y="663" width="1" height="17"/>
<rect x="933" y="630" width="1" height="50"/>
<rect x="934" y="636" width="1" height="44"/>
<rect x="938" y="663" width="1" height="17"/>
<rect x="939" y="662" width="1" height="18"/>
<rect x="942" y="663" width="1" height="17"/>
<rect x="944" y="661" width="1" height="19"/>
<rect x="945" y="649" width="1" height="31"/>
<rect x="947" y="666" width="1" height="14"/>
<rect x="948" y="659" width="1" height="21"/>
<rect x="949" y="660" width="1" height="20"/>
<rect x="950" y="651" width="1" height="29"/>
<rect x="952" y="644" width="1" height="36"/>
<rect x="953" y="665" width="1" height="15"/>
<rect x="955" y="640" width="1" height="40"/>
<rect x="958" y="624" width="1" height="56"/>
<rect x="959" y="584" width="1" height="96"/>
<rect x="964" y="562" width="1" height="118"/>
<rect x="965" y="580" width="1" height="100"/>
<rect x="968" y="617" width="1" height="63"/>
<rect x="969" y="649" width="1" height="31"/>
<rect x="970" y="624" width="1" height="56"/>
<rect x="973" y="644" width="1" height="36"/>
<rect x="975" y="614" width="1" height="66"/>
<rect x="976" y="658" width="1" height="22"/>
<rect x="978" y="613" width="1" height="67"/>
<rect x="979" y="613" width="1" height="67"/>
<rect x="980" y="645" width="1" height="35"/>
<rect x="981" y="639" width="1" height="41"/>
<rect x="983" y="630" width="1" height="50"/>
<rect x="984" y="609" width="1" height="71"/>
<rect x="985" y="649" width="1" height="31"/>
<rect x="986" y="644" width="1" height="36"/>
<rect x="989" y="590" width="1" height="90"/>
<rect x="990" y="632" width="1" height="48"/>
<rect x="995" y="631" width="1" height="49"/>
<rect x="996" y="654" width="1" height="26"/>
<rect x="999" y="613" width="1" height="67"/>
<rect x="1000" y="654" width="1" height="26"/>
<rect x="1001" y="633" width="1" height="47"/>
<rect x="1002" y="636" width="1" height="44"/>
<rect x="1004" y="628" width="1" height="52"/>
<rect x="1006" y="652" width="1" height="28"/>
<rect x="1007" y="668" width="1" height="12"/>
<rect x="1009" y="620" width="1" height="60"/>
<rect x="1010" y="655" width="1" height="25"/>
<rect x="1012" y="588" width="1" height="92"/>
<rect x="1014" y="642" width="1" height="38"/>
<rect x="1015" y="628" width="1" height="52"/>
<rect x="1016" y="596" width="1" height="84"/>
<rect x="1017" y="630" width="1" height="50"/>
<rect x="1020" y="636" width="1" height="44"/>
<rect x="1021" y="638" width="1" height="42"/>
<rect x="1026" y="637" width="1" height="43"/>
<rect x="1027" y="654" width="1" height="26"/>
<rect x="1030" y="614" width="1" height="66"/>
<rect x="1031" y="621" width="1" height="59"/>
<rect x="1032" y="644" width="1" height="36"/>
<rect x="1033" y="637" width="1" height="43"/>
<rect x="1035" y="661" width="1" height="19"/>
<rect x="1036" y="660" width="1" height="20"/>
<rect x="1037" y="645" width="1" height="35"/>
<rect x="1038" y="653" width="1" height="27"/>
<rect x="1040" y="657" width="1" height="23"/>
<rect x="1041" y="639" width="1" height="41"/>
<rect x="1043" y="667" width="1" height="13"/>
<rect x="1046" y="664" width="1" height="16"/>
<rect x="1047" y="634" width="1" height="46"/>
<rect x="1048" y="666" width="1" height="14"/>
<rect x="1051" y="662" width="1" height="18"/>
<rect x="1052" y="670" width="1" height="10"/>
<rect x="1053" y="640" width="1" height="40"/>
<rect x="1057" y="666" width="1" height="14"/>
<rect x="1058" y="666" width="1" height="14"/>
<rect x="1061" y="654" width="1" height="26"/>
<rect x="1063" y="669" width="1" height="11"/>
<rect x="1064" y="650" width="1" height="30"/>
<rect x="1066" y="667" width="1" height="13"/>
<rect x="1067" y="655" width="1" height="25"/>
<rect x="1068" y="658" width="1" height="22"/>
<rect x="1069" y="650" width="1" height="30"/>
<rect x="1071" y="674" width="1" height="6"/>
<rect x="1072" y="667" width="1" height="13"/>
<rect x="1074" y="667" width="1" height="13"/>
<rect x="1077" y="619" width="1" height="61"/>
<rect x="1078" y="668" width="1" height="12"/>
<rect x="1082" y="660" width="1" height="20"/>
<rect x="1083" y="653" width="1" height="27"/>
<rect x="1084" y="638" width="1" height="42"/>
<rect x="1087" y="635" width="1" height="45"/>
<rect x="1088" y="639" width="1" height="41"/>
<rect x="1089" y="646" width="1" height="34"/>
<rect x="1092" y="644" width="1" height="36"/>
<rect x="1094" y="639" width="1" height="41"/>
<rect x="1095" y="657" width="1" height="23"/>
<rect x="1097" y="631" width="1" height="49"/>
<rect x="1098" y="552" width="1" height="128"/>
<rect x="1099" y="670" width="1" height="10"/>
<rect x="1100" y="631" width="1" height="49"/>
<rect x="1102" y="648" width="1" height="32"/>
<rect x="1103" y="641" width="1" height="39"/>
<rect x="1104" y="662" width="1" height="18"/>
<rect x="1105" y="643" width="1" height="37"/>
<rect x="1108" y="658" width="1" height="22"/>
<rect x="1109" y="639" width="1" height="41"/>
<rect x="1114" y="646" width="1" height="34"/>
<rect x="1115" y="666" width="1" height="14"/>
<rect x="1118" y="650" width="1" height="30"/>
<rect x="1119" y="651" width="1" height="29"/>
<rect x="1120" y="627" width="1" height="53"/>
<rect x="1121" y="641" width="1" height="39"/>
</g>
<g fill="none" stroke="#000" stroke-width="1.1" shape-rendering="crispEdges">
<rect x="86.5" y="30.5" width="1085.0" height="476.0"/>
<rect x="86.5" y="521.5" width="1085.0" height="159.0"/>
<line x1="134.5" y1="506.5" x2="134.5" y2="511.9"/>
<line x1="134.5" y1="680.5" x2="134.5" y2="685.9"/>
<line x1="268.5" y1="506.5" x2="268.5" y2="511.9"/>
<line x1="268.5" y1="680.5" x2="268.5" y2="685.9"/>
<line x1="404.5" y1="506.5" x2="404.5" y2="511.9"/>
<line x1="404.5" y1="680.5" x2="404.5" y2="685.9"/>
<line x1="537.5" y1="506.5" x2="537.5" y2="511.9"/>
<line x1="537.5" y1="680.5" x2="537.5" y2="685.9"/>
<line x1="673.5" y1="506.5" x2="673.5" y2="511.9"/>
<line x1="673.5" y1="680.5" x2="673.5" y2="685.9"/>
<line x1="808.5" y1="506.5" x2="808.5" y2="511.9"/>
<line x1="808.5" y1="680.5" x2="808.5" y2="685.9"/>
<line x1="944.5" y1="506.5" x2="944.5" y2="511.9"/>
<line x1="944.5" y1="680.5" x2="944.5" y2="685.9"/>
<line x1="1078.5" y1="506.5" x2="1078.5" y2="511.9"/>
<line x1="1078.5" y1="680.5" x2="1078.5" y2="685.9"/>
<line x1="81.1" y1="38.5" x2="86.5" y2="38.5"/>
<line x1="81.1" y1="138.5" x2="86.5" y2="138.5"/>
<line x1="81.1" y1="237.5" x2="86.5" y2="237.5"/>
<line x1="81.1" y1="337.5" x2="86.5" y2="337.5"/>
<line x1="81.1" y1="436.5" x2="86.5" y2="436.5"/>
<line x1="81.1" y1="550.5" x2="86.5" y2="550.5"/>
<line x1="81.1" y1="582.5" x2="86.5" y2="582.5"/>
<line x1="81.1" y1="615.5" x2="86.5" y2="615.5"/>
<line x1="81.1" y1="647.5" x2="86.5" y2="647.5"/>
<line x1="81.1" y1="680.5" x2="86.5" y2="680.5"/>
</g>
<text transform="translate(0,22.1) scale(1.04,1)" x="503.77 515.41 522.63 536.77 542.91 552.33 561.75 571.19 580.61 586.25 595.69 605.11 610.76 620.19 629.62 633.75 643.38 653.02 657.85 667.48 677.13 681.94 691.58" font-size="16.4" stroke-width="0.2" xml:space="preserve">GLW 2025-09-02 04:36:18</text>
<text transform="translate(0,736.8)" x="84.75 96.21 103.33 117.26 123.33 139.96 156.61 173.26 190.78 195.34 200.59" font-size="16.4" stroke-width="0.1" xml:space="preserve">GLW 交易次数: 2</text>
<text transform="translate(0,756.8)" x="85.35 102.09 118.85 135.61 152.37 169.13 186.18 190.74 195.85 205.23 214.61 224.01 228.69 238.08 247.47" font-size="16.4" stroke-width="0.1" xml:space="preserve">策略总收益率: 101.07%</text>
<text transform="translate(0,776.6)" x="85.38 102.11 118.85 135.6 152.35 169.09 186.18 190.74 195.55 205.09 214.63 219.41 227.67 237.23" font-size="16.4" stroke-width="0.1" xml:space="preserve">长期持有收益: 99.11%</text>
<text transform="translate(0,813.9)" x="85.55 101.87 118.2 134.53 151.68" font-size="16.4" stroke-width="0.1" xml:space="preserve">交易记录:</text>
<text transform="translate(0,829.3) scale(0.965,1)" x="82.9 82.9 99.35 110.27 119.4 127.59 132.15 143.98 153.09 157.65 166.77 171.34 177.14 188.06 197.18 205.37 209.93 220.85 226.32 229.96 238.15 247.28 251.84 258.31 269.24 278.36 282 285.64 290.19 302.03 311.14 315.7 324.83 329.39 337.39 348.31 357.44 361.08 364.72 369.27 380.21 385.66 389.3 397.5 406.63 411.19 417.36 429.19 438.3 441.96 451.07 454.71 463.82 472.94 477.49 489.33 498.44 506.65 514.85 519.41 525.53 536.45 541.92 551.03 555.57 559.21 563.78 568.32" font-size="16.4" stroke-width="0.2" xml:space="preserve">  Buy Date  Buy Price  Sell Date  Sell Price  Holding Days  Profit %</text>
<text transform="translate(0,847.7) scale(1.08,1)" x="79.25 88.36 97.47 106.59 115.7 121.16 130.28 139.39 144.86 153.97 163.09 167.66 172.22 176.78 181.34 185.91 190.28 199.39 208.5 213.06 222.17 231.31 236.57 245.68 254.79 263.91 273.02 278.48 286.38 295.49 300.96 310.07 319.19 323.76 328.32 332.88 337.44 342.01 352.42 361.53 370.64 375.2 384.31 393.45 398.01 402.57 407.14 411.7 416.26 420.82 425.39 429.95 434.51 439.07 444.44 453.55 462.66 471.8 476.37 480.93 485.49 495.49 504.6 513.71 518.27 527.38" font-size="16.4" stroke-width="0.2" xml:space="preserve">2022-03-16      33.68 2024-11-13      46.21           973    37.20</text>
<text transform="translate(0,864.7) scale(1.08,1)" x="79.39 88.5 97.61 106.73 115.84 121.3 130.42 139.53 145 154.11 163.23 167.8 172.36 176.92 181.48 186.05 191.02 200.13 209.24 213.8 222.91 232.05 236.38 245.49 254.6 263.72 272.83 278.29 287.41 296.52 301.99 311.1 320.22 324.79 329.35 333.91 338.47 343.04 352.23 361.34 370.45 375.01 384.12 393.26 397.82 402.38 406.95 411.51 416.07 420.63 425.2 429.76 434.32 438.88 444.68 453.79 462.89 472.04 476.6 481.16 485.72 495.92 505.03 514.14 518.7 527.81" font-size="16.4" stroke-width="0.2" xml:space="preserve">2024-12-18      45.76 2025-08-29      67.06           253    46.55</text>
<text transform="translate(0,43.1) scale(1.06,1)" x="57.05 64.27" font-size="13" stroke-width="0.08" xml:space="preserve">70</text>
<text transform="translate(0,143.1) scale(1.06,1)" x="57.05 64.27" font-size="13" stroke-width="0.08" xml:space="preserve">60</text>
<text transform="translate(0,242.1) scale(1.06,1)" x="57.04 64.26" font-size="13" stroke-width="0.08" xml:space="preserve">50</text>
<text transform="translate(0,342.1) scale(1.06,1)" x="57.48 64.7" font-size="13" stroke-width="0.08" xml:space="preserve">40</text>
<text transform="translate(0,441.1) scale(1.06,1)" x="57.05 64.26" font-size="13" stroke-width="0.08" xml:space="preserve">30</text>
<text transform="translate(0,555.1) scale(1.12,1)" x="24.31 31.53 38.77 46 53.22 60.46" font-size="13" stroke-width="0.08" xml:space="preserve">800000</text>
<text transform="translate(0,587.1) scale(1.12,1)" x="23.96 31.18 38.42 45.65 52.87 60.1" font-size="13" stroke-width="0.08" xml:space="preserve">600000</text>
<text transform="translate(0,620.1) scale(1.12,1)" x="24.39 31.61 38.84 46.08 53.3 60.53" font-size="13" stroke-width="0.08" xml:space="preserve">400000</text>
<text transform="translate(0,652.1) scale(1.12,1)" x="23.96 31.18 38.42 45.65 52.87 60.1" font-size="13" stroke-width="0.08" xml:space="preserve">200000</text>
<text transform="translate(0,685.1) scale(1.12,1)" x="60.62" font-size="13" stroke-width="0.08" xml:space="preserve">0</text>
<text transform="translate(0,699.0) scale(1.12,1)" x="96.09 103.31 110.54 117.78 125 129.32 136.56" font-size="13" stroke-width="0.08" xml:space="preserve">2022-01</text>
<text transform="translate(0,699.0) scale(1.12,1)" x="215.73 222.95 230.19 237.42 244.64 248.97 256.2" font-size="13" stroke-width="0.08" xml:space="preserve">2022-07</text>
<text transform="translate(0,699.0) scale(1.12,1)" x="337.16 344.38 351.61 358.85 366.07 370.4 377.63" font-size="13" stroke-width="0.08" xml:space="preserve">2023-01</text>
<text transform="translate(0,699.0) scale(1.12,1)" x="455.91 463.13 470.36 477.6 484.82 489.15 496.38" font-size="13" stroke-width="0.08" xml:space="preserve">2023-07</text>
<text transform="translate(0,699.0) scale(1.12,1)" x="577.34 584.56 591.79 599.03 606.25 610.57 617.81" font-size="13" stroke-width="0.08" xml:space="preserve">2024-01</text>
<text transform="translate(0,699.0) scale(1.12,1)" x="697.87 705.09 712.33 719.56 726.78 731.11 738.34" font-size="13" stroke-width="0.08" xml:space="preserve">2024-07</text>
<text transform="translate(0,699.0) scale(1.12,1)" x="819.3 826.52 833.76 840.99 848.21 852.54 859.77" font-size="13" stroke-width="0.08" xml:space="preserve">2025-01</text>
<text transform="translate(0,699.0) scale(1.12,1)" x="938.95 946.17 953.4 960.63 967.85 972.18 979.42" font-size="13" stroke-width="0.08" xml:space="preserve">2025-07</text>
<text transform="translate(51.9,284.45) rotate(-90) scale(1.002,1)" font-size="13" stroke-width="0.08" xml:space="preserve">Price</text>
<text transform="translate(18.4,624.14) rotate(-90) scale(1.008,1)" font-size="13" stroke-width="0.08" xml:space="preserve">Volume</text>
<rect x="93.7" y="37.4" width="107.7" height="119.8" rx="2.8" fill="#fff" fill-opacity="0.8" stroke="#ccc" stroke-opacity="0.8" stroke-width="1.1"/>
<line x1="97" y1="46.9" x2="127" y2="46.9" stroke="#000" stroke-width="2.08"/>
<line x1="97" y1="66.9" x2="127" y2="66.9" stroke="#008000" stroke-width="2.08"/>
<line x1="97" y1="87.9" x2="127" y2="87.9" stroke="#ff0000" stroke-width="2.08"/>
<line x1="97" y1="106.5" x2="127" y2="106.5" stroke="#800080" stroke-width="2.08"/>
<polygon points="112.4,117.3 102.0,137.7 122.8,137.7" fill="#008000"/>
<polygon points="112.4,155.7 102.0,135.3 122.8,135.3" fill="#ff0000"/>
<text transform="translate(0,52.7) scale(1.09,1)" x="126.21 135.01 137.72 144.51 150.61" font-size="12.2" stroke-width="0.08" xml:space="preserve">Close</text>
<text transform="translate(0,72.7) scale(1.09,1)" x="126.23 136.44 144.63 151.45 158.28 161.42 174.5" font-size="12.2" stroke-width="0.04" xml:space="preserve">MA50[买]</text>
<text transform="translate(0,92.9) scale(1.09,1)" x="126.23 136.44 144.63 151.45 158.28 161.42 174.5" font-size="12.2" stroke-width="0.04" xml:space="preserve">MA25[卖]</text>
<text transform="translate(0,111.7) scale(1.1,1)" x="125.06 135.37 143.65 150.53 157.43" font-size="12.2" stroke-width="0.08" xml:space="preserve">MA200</text>
<text transform="translate(0,130.7)" x="137.68 145.84 152.65" font-size="12.2" stroke-width="0.08" xml:space="preserve">Buy</text>
<text transform="translate(0,148.8) scale(1.08,1)" x="128.02 136.29 143.2 145.95" font-size="12.2" stroke-width="0.08" xml:space="preserve">Sell</text>
</svg>
</body></html>
